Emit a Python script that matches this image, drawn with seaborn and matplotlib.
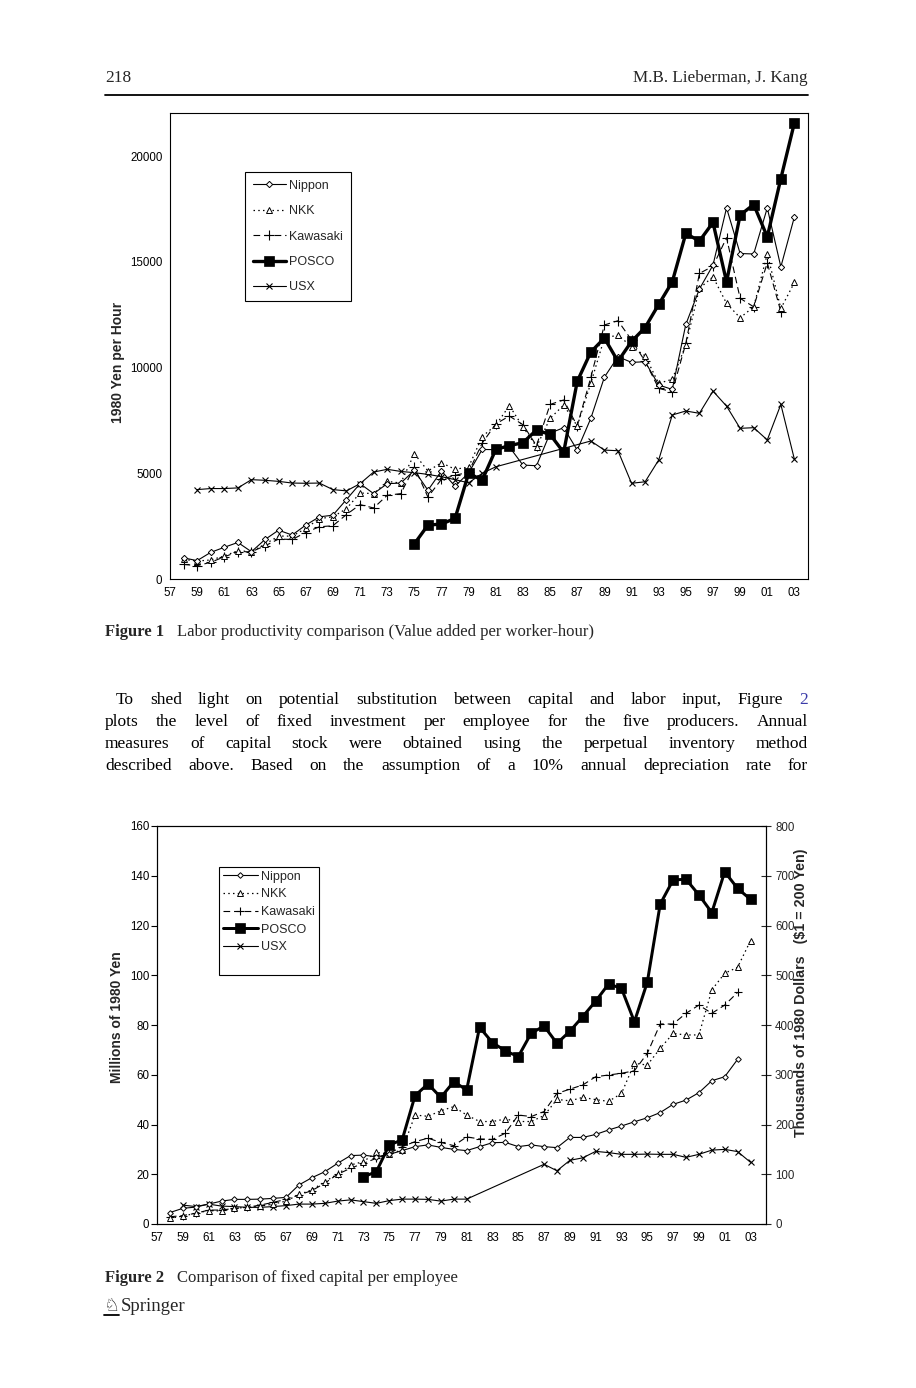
import matplotlib
matplotlib.use("Agg")
import numpy as np
import matplotlib.pyplot as plt
from matplotlib.lines import Line2D
import seaborn as sns

# --- Figure 1: value added per worker-hour (1980 yen) ---
yrs_58_03 = list(range(1958, 2004))
yrs_58_02 = list(range(1958, 2003))
yrs_75_03 = list(range(1975, 2004))
yrs_usx_fig1 = list(range(1959, 1982)) + list(range(1988, 2004))

nippon_prod = [1000, 870, 1260, 1500, 1730, 1290, 1870, 2310, 2080, 2550,
               2940, 3020, 3760, 4510, 4040, 4510, 4540, 5140, 4200, 5110,
               4390, 5020, 6130, 6120, 6250, 5390, 5360, 6900, 7160, 6100,
               7600, 9550, 10520, 10250, 10280, 9180, 8970, 12050, 13720, 14850,
               17560, 15400, 15380, 17560, 14770, 17140]
nkk_prod = [930, 850, 900, 1090, 1340, 1290, 1650, 2030, 2030, 2390,
            2860, 2940, 3330, 4070, 4040, 4620, 4540, 5930, 5110, 5500,
            5190, 5300, 6740, 7280, 8200, 7200, 6260, 7600, 8230, 7240,
            9270, 11400, 11540, 11000, 10560, 9260, 9450, 11070, 13750, 14300,
            13040, 12360, 12880, 15380, 12800, 14030]
kawasaki_prod = [690, 630, 790, 1050, 1290, 1290, 1570, 1890, 1870, 2200,
                 2470, 2520, 3050, 3520, 3360, 3960, 4040, 5300, 3880, 4720,
                 4900, 5060, 6430, 7340, 7710, 7300, 6310, 8260, 8470, 7240,
                 9540, 12020, 12220, 11310, 10300, 9020, 8860, 11150, 14460, 14800,
                 16150, 13280, 12880, 14960, 12650]
posco_prod = [1660, 2550, 2600, 2870, 5000, 4680, 6130, 6310, 6450, 7050,
              6840, 5990, 9350, 10740, 11400, 10300, 11240, 11900, 12990, 14060,
              16350, 15990, 16870, 14060, 17220, 17720, 16190, 18950, 21590]
usx_prod = [4230, 4280, 4280, 4310, 4700, 4670, 4620, 4540, 4530, 4540,
            4230, 4170, 4510, 5060, 5190, 5090, 5030, 4950, 4840, 4700,
            4550, 5000, 5310,
            6530, 6100, 6070, 4530, 4600, 5630, 7760, 7950, 7840, 8890,
            8180, 7130, 7160, 6580, 8260, 5660]

# --- Figure 2: fixed capital per employee (millions of 1980 yen) ---
yrs_73_03 = list(range(1973, 2004))
yrs_usx_fig2 = list(range(1959, 1982)) + list(range(1987, 2004))

nippon_cap = [4.6, 6.3, 6.8, 8.0, 9.2, 9.9, 9.9, 10.0, 10.3, 10.7,
              15.7, 18.6, 21.0, 24.4, 27.5, 27.7, 27.0, 28.0, 29.5, 31.1,
              31.8, 30.8, 30.0, 29.5, 31.1, 32.7, 32.8, 31.1, 31.8, 31.1,
              30.7, 34.8, 34.8, 36.0, 37.8, 39.4, 41.1, 42.7, 44.8, 48.1,
              49.8, 52.8, 57.6, 59.2, 66.2]
nkk_cap = [2.3, 3.2, 4.3, 5.4, 5.2, 6.3, 6.7, 7.2, 8.0, 9.2,
           11.9, 13.7, 17.0, 20.1, 23.7, 25.1, 28.8, 28.1, 29.8, 43.8,
           43.3, 45.5, 47.2, 43.8, 41.2, 41.2, 42.2, 41.2, 41.2, 43.6,
           50.1, 49.5, 50.9, 50.0, 49.3, 52.5, 64.6, 63.9, 70.6, 76.6,
           76.0, 76.0, 94.1, 100.8, 103.2, 113.9]
kawasaki_cap = [2.9, 3.4, 4.3, 5.6, 5.6, 6.3, 6.7, 7.6, 8.7, 9.9,
                11.7, 13.4, 16.4, 20.0, 22.4, 24.4, 26.4, 28.4, 31.1, 33.1,
                34.5, 32.8, 31.5, 35.0, 34.2, 34.0, 36.5, 43.8, 43.2, 45.2,
                52.5, 54.2, 55.9, 59.2, 59.9, 60.6, 61.6, 68.6, 80.4, 80.4,
                84.7, 88.0, 84.7, 88.0, 93.1]
posco_cap = [19.0, 21.0, 31.8, 33.8, 51.6, 56.3, 50.9, 57.2, 53.9, 79.1,
             72.9, 69.6, 67.3, 76.7, 79.6, 72.6, 77.5, 83.4, 89.6, 96.5,
             94.7, 81.3, 97.2, 128.6, 138.3, 138.6, 132.3, 125.2, 141.6, 134.9,
             130.5]
usx_cap = [7.6, 7.0, 8.0, 7.2, 7.0, 6.7, 6.7, 7.0, 7.4, 8.0,
           8.0, 8.3, 9.2, 9.7, 9.0, 8.3, 9.4, 10.0, 10.0, 9.9,
           9.2, 10.0, 10.0,
           24.0, 21.4, 25.6, 26.6, 29.2, 28.7, 28.0, 28.0, 28.1, 28.0,
           28.0, 26.8, 28.0, 29.7, 30.0, 29.1, 24.8]

firms = ["Nippon", "NKK", "Kawasaki", "POSCO", "USX"]
xtick_years = list(range(1957, 2004))
xtick_labels = [f"{y % 100:02d}" if (y - 1957) % 2 == 0 else "" for y in xtick_years]
fig1_yticks = [0, 5000, 10000, 15000, 20000]
fig2_yticks = [0, 20, 40, 60, 80, 100, 120, 140, 160]
fig2_right_ticks = [0, 100, 200, 300, 400, 500, 600, 700, 800]

para_lines = [
    "To shed light on potential substitution between capital and labor input, Figure 2",
    "plots the level of fixed investment per employee for the five producers. Annual",
    "measures of capital stock were obtained using the perpetual inventory method",
    "described above. Based on the assumption of a 10% annual depreciation rate for",
]

# --- stili ---
STYLE = {
    "Nippon": dict(linestyle="-", linewidth=0.8, marker="D", markerfacecolor="white",
                   markersize=3.2, markeredgewidth=0.7),
    "NKK": dict(linestyle=(0, (1.2, 2.6)), linewidth=0.9, marker="^", markerfacecolor="white",
                markersize=4.6, markeredgewidth=0.7),
    "Kawasaki": dict(linestyle=(0, (6, 3.5)), linewidth=0.8, marker="+",
                     markersize=6.5, markeredgewidth=0.8),
    "POSCO": dict(linestyle="-", linewidth=2.4, marker="s", markerfacecolor="black",
                  markersize=7.5, markeredgewidth=0.5),
    "USX": dict(linestyle="-", linewidth=0.8, marker="x", markersize=5, markeredgewidth=0.8),
}

W, H = 916, 1388
SANS = ["Liberation Sans", "DejaVu Sans"]
SERIF = ["Liberation Serif", "DejaVu Serif"]

sns.set_style("white")
plt.rcParams["font.family"] = SANS


def draw_series(ax, years, vals, name, scale=1.0):
    st = dict(STYLE[name])
    st["markersize"] = st["markersize"] * scale
    if name == "POSCO":
        st["linewidth"] = st["linewidth"] * scale
    sns.lineplot(x=np.array(years), y=np.array(vals, dtype=float), ax=ax, color="black",
                 markeredgecolor="black", errorbar=None, legend=False, **st)
    return ax.lines[-1]


def style_axes(ax, xmax):
    ax.set_xlim(1957, xmax)
    ax.set_xticks(xtick_years)
    ax.set_xticklabels(xtick_labels)
    ax.set_xlabel("")
    ax.set_ylabel("")
    for sp in ax.spines.values():
        sp.set_visible(True)
        sp.set_color("black")
        sp.set_linewidth(0.8)
    ax.tick_params(axis="x", direction="inout", length=6, width=0.8, labelsize=8.3, pad=3, colors="black")
    ax.tick_params(axis="y", direction="out", length=4, width=0.8, labelsize=8.3, pad=1.5, colors="black")


def fx(x):
    return x / W


def fy(y):
    return 1 - y / H


fig = plt.figure(figsize=(W / 100, H / 100), dpi=100)
fig.patch.set_facecolor("white")

# ---------------- Figure 1 ----------------
ax1 = fig.add_axes([fx(170), fy(579), (808 - 170) / W, (579 - 113) / H])
handles1 = {}
handles1["USX"] = draw_series(ax1, yrs_usx_fig1, usx_prod, "USX")
handles1["Kawasaki"] = draw_series(ax1, yrs_58_02, kawasaki_prod, "Kawasaki")
handles1["NKK"] = draw_series(ax1, yrs_58_03, nkk_prod, "NKK")
handles1["Nippon"] = draw_series(ax1, yrs_58_03, nippon_prod, "Nippon")
handles1["POSCO"] = draw_series(ax1, yrs_75_03, posco_prod, "POSCO")
style_axes(ax1, 2004)
ax1.set_ylim(0, 22050)
ax1.set_yticks(fig1_yticks)
ax1.set_yticklabels([str(v) for v in fig1_yticks])
leg1 = ax1.legend([handles1[f] for f in firms], firms, loc="upper left",
                  bbox_to_anchor=((245 - 170) / 638, (579 - 172) / 466), borderaxespad=0,
                  fontsize=9, frameon=True, fancybox=False, edgecolor="black",
                  framealpha=1, handlelength=2.7, handletextpad=0.25,
                  labelspacing=1.08, borderpad=0.6)
leg1.get_frame().set_linewidth(0.8)
fig.text(fx(118), fy(362), "1980 Yen per Hour", rotation=90, ha="center", va="center",
         fontsize=10, fontweight="bold")

# ---------------- Figure 2 ----------------
ax2 = fig.add_axes([fx(157), fy(1224), (766 - 157) / W, (1224 - 826) / H])
handles2 = {}
handles2["USX"] = draw_series(ax2, yrs_usx_fig2, usx_cap, "USX", 0.9)
handles2["Kawasaki"] = draw_series(ax2, yrs_58_02, kawasaki_cap, "Kawasaki", 0.9)
handles2["NKK"] = draw_series(ax2, yrs_58_03, nkk_cap, "NKK", 0.9)
handles2["Nippon"] = draw_series(ax2, yrs_58_02, nippon_cap, "Nippon", 0.9)
handles2["POSCO"] = draw_series(ax2, yrs_73_03, posco_cap, "POSCO", 0.9)
style_axes(ax2, 2004.2)
ax2.set_ylim(0, 160)
ax2.set_yticks(fig2_yticks)
ax2.set_yticklabels([str(v) for v in fig2_yticks])

ax2r = ax2.twinx()
ax2r.set_ylim(0, 800)
ax2r.set_yticks(fig2_right_ticks)
ax2r.set_yticklabels([str(v) for v in fig2_right_ticks])
ax2r.tick_params(axis="y", direction="inout", length=7, width=0.8, labelsize=8.3, pad=3)
for sp in ax2r.spines.values():
    sp.set_color("black")
    sp.set_linewidth(0.8)

blank = Line2D([], [], color="none")
leg2 = ax2.legend([handles2[f] for f in firms] + [blank], firms + [" "], loc="upper left",
                  bbox_to_anchor=((219 - 157) / 609, (1224 - 867) / 398), borderaxespad=0,
                  fontsize=9, frameon=True, fancybox=False, edgecolor="black",
                  framealpha=1, handlelength=2.8, handletextpad=0.25,
                  labelspacing=0.45, borderpad=0.3)
leg2.get_frame().set_linewidth(0.8)
fig.text(fx(117), fy(1017), "Millions of 1980 Yen", rotation=90, ha="center", va="center",
         fontsize=10, fontweight="bold")
fig.text(fx(801), fy(993), r"Thousands of 1980 Dollars   (\$1 = 200 Yen)", rotation=90,
         ha="center", va="center", fontsize=10.3, fontweight="bold")

# ---------------- testo della pagina ----------------
fig.text(fx(105), fy(82), "218", family=SERIF, fontsize=12.5, va="baseline")
fig.text(fx(808), fy(82), "M.B. Lieberman, J. Kang", family=SERIF, fontsize=12.3,
         va="baseline", ha="right")
fig.add_artist(Line2D([fx(105), fx(808)], [fy(95), fy(95)], transform=fig.transFigure,
                      color="black", linewidth=1.3))

fig.text(fx(105), fy(636), "Figure 1", family=SERIF, fontsize=12, fontweight="bold", va="baseline")
fig.text(fx(177), fy(636), "Labor productivity comparison (Value added per worker-hour)",
         family=SERIF, fontsize=12, va="baseline")
fig.text(fx(105), fy(1282), "Figure 2", family=SERIF, fontsize=12, fontweight="bold", va="baseline")
fig.text(fx(177), fy(1282), "Comparison of fixed capital per employee",
         family=SERIF, fontsize=12, va="baseline")

# Springer logo (semplificato)
fig.text(fx(111.5), fy(1311), "\u2658", family=["DejaVu Sans"], fontsize=13, ha="center", va="baseline")
fig.add_artist(Line2D([fx(104), fx(119)], [fy(1315), fy(1315)], transform=fig.transFigure,
                      color="black", linewidth=1.3))
fig.text(fx(121), fy(1311), "Springer", family=SERIF, fontsize=13.5, va="baseline")

# paragrafo giustificato
renderer = fig.canvas.get_renderer()
base_y = 704
for i, line in enumerate(para_lines):
    words = line.split()
    x0 = 116 if i == 0 else 105
    x1 = 808
    texts = []
    for j, w in enumerate(words):
        col = "#3a3aa8" if (i == 0 and j == len(words) - 1) else "black"
        texts.append(fig.text(fx(x0), fy(base_y + i * 22), w, family=SERIF, fontsize=12.5,
                              va="baseline", color=col))
    widths = [t.get_window_extent(renderer).width for t in texts]
    gap = (x1 - x0 - sum(widths)) / (len(words) - 1)
    x = x0
    for t, wd in zip(texts, widths):
        t.set_x(fx(x))
        x += wd + gap

fig.savefig("out.png", dpi=100, facecolor="white")
